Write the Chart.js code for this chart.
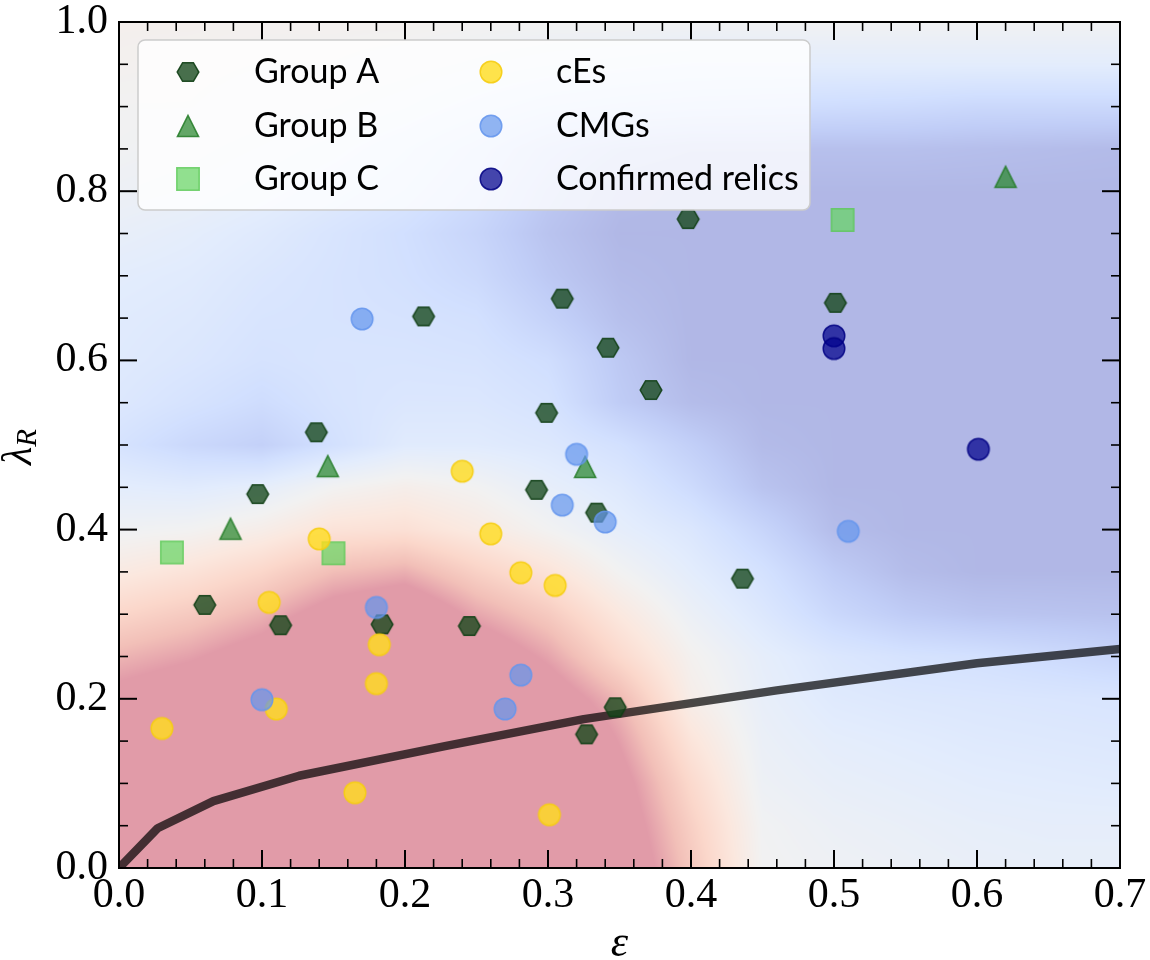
<!DOCTYPE html>
<html><head><meta charset="utf-8">
<script src="https://cdn.jsdelivr.net/npm/chart.js@4.4.1/dist/chart.umd.min.js"></script>
<style>html,body{margin:0;padding:0;background:#fff;}canvas{display:block;}</style>
</head><body>
<canvas id="c" width="1150" height="960"></canvas>
<script>
// ---------------- data ----------------
const groupA_eps = [0.060,0.113,0.097,0.138,0.184,0.213,0.245,0.292,0.299,0.310,0.342,0.334,0.372,0.398,0.501,0.436,0.347,0.327];
const groupA_lam = [0.311,0.287,0.442,0.515,0.288,0.652,0.286,0.447,0.538,0.673,0.615,0.420,0.565,0.767,0.668,0.342,0.190,0.158];
const groupB_eps = [0.078,0.146,0.326,0.620];
const groupB_lam = [0.401,0.475,0.474,0.817];
const groupC_eps = [0.037,0.150,0.506];
const groupC_lam = [0.373,0.372,0.766];
const cEs_eps = [0.030,0.105,0.110,0.140,0.165,0.180,0.182,0.240,0.260,0.281,0.305,0.301];
const cEs_lam = [0.165,0.314,0.188,0.389,0.089,0.218,0.264,0.469,0.395,0.349,0.334,0.063];
const CMG_eps = [0.170,0.100,0.180,0.281,0.270,0.320,0.310,0.340,0.510];
const CMG_lam = [0.649,0.199,0.308,0.228,0.188,0.489,0.429,0.409,0.398];
const relic_eps = [0.500,0.500,0.601];
const relic_lam = [0.629,0.614,0.495];
const line_eps = [0,0.027,0.066,0.126,0.228,0.325,0.46,0.60,0.70];
const line_lam = [0,0.047,0.079,0.109,0.144,0.176,0.210,0.242,0.259];

const x_ticks = [0,0.1,0.2,0.3,0.4,0.5,0.6,0.7];
const x_tick_labels = ['0.0','0.1','0.2','0.3','0.4','0.5','0.6','0.7'];
const y_ticks = [0,0.2,0.4,0.6,0.8,1.0];
const y_tick_labels = ['0.0','0.2','0.4','0.6','0.8','1.0'];
const legend_labels = ['Group A','Group B','Group C','cEs','CMGs','Confirmed relics'];

// background field (coolwarm value, 1 = red, 0 = blue), rows = lambda, cols = eps
const field_eps = [0,0.05,0.1,0.15,0.2,0.25,0.3,0.35,0.4,0.45,0.5,0.55,0.6,0.65,0.7];
const field_lam = [0,0.05,0.1,0.15,0.2,0.25,0.3,0.35,0.4,0.45,0.5,0.55,0.6,0.65,0.7,0.75,0.8,0.85,0.9,0.95,1.0];
const field_t = [
 [1.7,1.7,1.7,1.7,1.7,1.7,1.5,1.17,0.83,0.5,0.47,0.45,0.43,0.42,0.42],
 [1.53,1.6,1.65,1.7,1.7,1.65,1.46,1.12,0.79,0.49,0.45,0.43,0.41,0.4,0.4],
 [1.37,1.45,1.55,1.6,1.65,1.5,1.4,1.07,0.73,0.46,0.42,0.4,0.38,0.37,0.36],
 [1.22,1.3,1.4,1.55,1.6,1.4,1.3,0.99,0.65,0.44,0.39,0.37,0.35,0.34,0.33],
 [1.06,1.14,1.26,1.48,1.67,1.34,1.12,0.9,0.56,0.42,0.35,0.33,0.32,0.31,0.30],
 [0.91,0.98,1.09,1.28,1.43,1.15,0.97,0.73,0.52,0.4,0.32,0.28,0.26,0.22,0.18],
 [0.75,0.82,0.92,1.08,1.17,0.96,0.82,0.62,0.45,0.33,0.2,0.12,0.08,0.07,0.06],
 [0.6,0.66,0.75,0.88,0.93,0.78,0.66,0.5,0.38,0.27,0.12,0.03,0,0,0],
 [0.48,0.5,0.56,0.66,0.68,0.6,0.5,0.4,0.32,0.18,0.03,0,0,0,0],
 [0.38,0.36,0.4,0.5,0.55,0.5,0.41,0.34,0.22,0.07,0,0,0,0,0],
 [0.28,0.2,0.15,0.26,0.36,0.36,0.33,0.26,0.14,0.02,0,0,0,0,0],
 [0.33,0.28,0.23,0.29,0.32,0.32,0.28,0.12,0.03,0,0,0,0,0,0],
 [0.35,0.32,0.28,0.3,0.3,0.29,0.24,0.1,0,0,0,0,0,0,0],
 [0.36,0.34,0.3,0.29,0.28,0.26,0.16,0.05,0,0,0,0,0,0,0],
 [0.38,0.36,0.32,0.29,0.26,0.21,0.1,0.02,0,0,0,0,0,0,0],
 [0.42,0.39,0.35,0.3,0.25,0.18,0.07,0,0,0,0,0,0,0,0],
 [0.46,0.44,0.4,0.35,0.3,0.22,0.1,0.02,0,0,0,0,0,0,0],
 [0.49,0.47,0.44,0.4,0.34,0.26,0.15,0.08,0.05,0.05,0.05,0.05,0.04,0.03,0.02],
 [0.5,0.5,0.48,0.46,0.42,0.36,0.3,0.27,0.25,0.24,0.23,0.22,0.2,0.2,0.2],
 [0.52,0.51,0.5,0.5,0.48,0.45,0.42,0.4,0.38,0.38,0.38,0.38,0.38,0.38,0.38],
 [0.53,0.53,0.52,0.52,0.52,0.51,0.5,0.5,0.49,0.49,0.49,0.49,0.49,0.49,0.49]
];
const cmStops = [[0,59,76,192],[0.125,98,130,234],[0.25,141,176,254],[0.375,184,208,249],[0.5,221,221,221],[0.625,245,196,173],[0.75,244,154,123],[0.875,222,96,77],[1,180,4,38]];
const fieldAlpha = 0.4;

// ---------------- helpers ----------------
const pts = (xs, ys) => xs.map((v, i) => ({x: v, y: ys[i]}));

function makeMarker(kind, fill, stroke){
  const S = 30, c = document.createElement('canvas'); c.width = S; c.height = S;
  const g = c.getContext('2d'); const cx = S/2, cy = S/2;
  g.beginPath();
  if (kind === 'hex') { const r = 10.8; for (let k = 0; k < 6; k++) { const a = k*Math.PI/3; const px = cx + r*Math.cos(a), py = cy + r*Math.sin(a); if (k) g.lineTo(px, py); else g.moveTo(px, py); } g.closePath(); }
  else if (kind === 'tri') { const h = 10.6; g.moveTo(cx, cy - h); g.lineTo(cx - h, cy + h); g.lineTo(cx + h, cy + h); g.closePath(); }
  else if (kind === 'sq') { g.rect(cx - 11.2, cy - 11.2, 22.4, 22.4); }
  else { g.arc(cx, cy, 10.8, 0, 2*Math.PI); }
  g.fillStyle = fill; g.fill(); g.lineWidth = 1.5; g.strokeStyle = stroke; g.stroke();
  return c;
}
const mkA = makeMarker('hex', 'rgba(20,70,26,0.78)', 'rgba(16,62,20,0.9)');
const mkB = makeMarker('tri', 'rgba(40,135,45,0.72)', 'rgba(34,122,38,0.85)');
const mkC = makeMarker('sq', 'rgba(100,212,95,0.7)', 'rgba(90,200,85,0.8)');
const mkE = makeMarker('circ', 'rgba(255,220,30,0.8)', 'rgba(245,205,20,0.9)');
const mkM = makeMarker('circ', 'rgba(100,149,237,0.7)', 'rgba(100,149,237,0.85)');
const mkR = makeMarker('circ', 'rgba(0,0,140,0.72)', 'rgba(0,0,130,0.85)');
const legendMarkers = [mkA, mkB, mkC, mkE, mkM, mkR];

function interval(arr, v){
  let i = 0; while (i < arr.length - 2 && v > arr[i+1]) i++;
  let f = (v - arr[i]) / (arr[i+1] - arr[i]); f = Math.max(0, Math.min(1, f));
  return [i, f];
}
function cmap(t){
  t = Math.max(0, Math.min(1, t));
  let k = 0; while (k < cmStops.length - 2 && t > cmStops[k+1][0]) k++;
  const a = cmStops[k], b = cmStops[k+1]; const f = (t - a[0]) / (b[0] - a[0]);
  return [0,1,2].map(j => { const c = a[j+1] + (b[j+1] - a[j+1]) * f; return 255 + (c - 255) * fieldAlpha; });
}

const fieldPlugin = {
  id: 'field',
  beforeDatasetsDraw(chart){
    const {ctx, chartArea: a, scales: {x, y}} = chart;
    const w = Math.round(a.right - a.left), h = Math.round(a.bottom - a.top);
    const off = document.createElement('canvas'); off.width = w; off.height = h;
    const o = off.getContext('2d'); const img = o.createImageData(w, h); const d = img.data;
    const colI = [];
    for (let i = 0; i < w; i++) colI.push(interval(field_eps, x.getValueForPixel(a.left + i + 0.5)));
    for (let j = 0; j < h; j++) {
      const [r, fy] = interval(field_lam, y.getValueForPixel(a.top + j + 0.5));
      const r0 = field_t[r], r1 = field_t[r+1];
      for (let i = 0; i < w; i++) {
        const [c, fx] = colI[i];
        const t = (r0[c]*(1-fx) + r0[c+1]*fx)*(1-fy) + (r1[c]*(1-fx) + r1[c+1]*fx)*fy;
        const col = cmap(t); const p = (j*w + i)*4;
        d[p] = col[0]; d[p+1] = col[1]; d[p+2] = col[2]; d[p+3] = 255;
      }
    }
    o.putImageData(img, 0, 0);
    ctx.drawImage(off, a.left, a.top);
  }
};

const framePlugin = {
  id: 'frame',
  afterDatasetsDraw(chart){
    const {ctx, chartArea: a, scales: {x, y}} = chart;
    ctx.save(); ctx.strokeStyle = '#000';
    const seg = (x1, y1, x2, y2, lw) => { ctx.lineWidth = lw; ctx.beginPath(); ctx.moveTo(x1, y1); ctx.lineTo(x2, y2); ctx.stroke(); };
    for (let k = 0; k <= 35; k++) {
      const v = k * 0.02; const px = x.getPixelForValue(v);
      const major = k % 5 === 0; const L = major ? 18 : 9, lw = major ? 2 : 1.6;
      seg(px, a.bottom, px, a.bottom - L, lw); seg(px, a.top, px, a.top + L, lw);
    }
    for (let k = 0; k <= 20; k++) {
      const v = k * 0.05; const py = y.getPixelForValue(v);
      const major = k % 4 === 0; const L = major ? 18 : 9, lw = major ? 2 : 1.6;
      seg(a.left, py, a.left + L, py, lw); seg(a.right, py, a.right - L, py, lw);
    }
    ctx.lineWidth = 2; ctx.strokeRect(a.left, a.top, a.right - a.left, a.bottom - a.top);
    // axis titles
    ctx.fillStyle = '#000';
    ctx.font = 'italic 44px "Liberation Serif"'; ctx.textAlign = 'center'; ctx.textBaseline = 'alphabetic';
    ctx.fillText('ε', (a.left + a.right)/2, 956);
    ctx.save();
    ctx.translate(31, 447); ctx.rotate(-Math.PI/2);
    ctx.font = 'italic 42px "Liberation Serif"'; const wl = ctx.measureText('λ').width;
    ctx.font = 'italic 29px "Liberation Serif"'; const wr = ctx.measureText('R').width;
    const x0 = -(wl + wr)/2;
    ctx.textAlign = 'left';
    ctx.font = 'italic 42px "Liberation Serif"'; ctx.fillText('λ', x0, 0);
    ctx.font = 'italic 29px "Liberation Serif"'; ctx.fillText('R', x0 + wl, 5);
    ctx.restore();
    ctx.restore();
  }
};

const legendPlugin = {
  id: 'customLegend',
  afterDraw(chart){
    const ctx = chart.ctx; ctx.save();
    const bx = 138, by = 40, bw = 672, bh = 170, r = 7;
    ctx.beginPath();
    ctx.moveTo(bx + r, by); ctx.lineTo(bx + bw - r, by); ctx.arcTo(bx + bw, by, bx + bw, by + r, r);
    ctx.lineTo(bx + bw, by + bh - r); ctx.arcTo(bx + bw, by + bh, bx + bw - r, by + bh, r);
    ctx.lineTo(bx + r, by + bh); ctx.arcTo(bx, by + bh, bx, by + bh - r, r);
    ctx.lineTo(bx, by + r); ctx.arcTo(bx, by, bx + r, by, r); ctx.closePath();
    ctx.fillStyle = 'rgba(255,255,255,0.8)'; ctx.fill();
    ctx.strokeStyle = 'rgba(204,204,204,1)'; ctx.lineWidth = 1.5; ctx.stroke();
    const rows = [72, 126, 179], mx = [188, 491], tx = [254, 556];
    ctx.font = '34px Lato'; ctx.fillStyle = '#000'; ctx.textAlign = 'left'; ctx.textBaseline = 'alphabetic';
    legend_labels.forEach((lab, i) => {
      const col = Math.floor(i / 3), row = i % 3;
      const m = legendMarkers[i];
      ctx.drawImage(m, mx[col] - m.width/2, rows[row] - m.height/2);
      ctx.fillText(lab, tx[col], rows[row] + 11);
    });
    ctx.restore();
  }
};

const scatterDs = (label, xs, ys, mk, order) => ({
  label, data: pts(xs, ys), pointStyle: mk, pointRadius: 10, pointHoverRadius: 10, order, showLine: false
});

new Chart(document.getElementById('c'), {
  type: 'scatter',
  data: { datasets: [
    { label: 'line', data: pts(line_eps, line_lam), showLine: true, borderColor: 'rgba(0,0,0,0.7)', borderWidth: 8.5,
      pointRadius: 0, pointHoverRadius: 0, fill: false, tension: 0, order: 10, clip: 0, borderJoinStyle: 'round', borderCapStyle: 'butt' },
    scatterDs(legend_labels[0], groupA_eps, groupA_lam, mkA, 6),
    scatterDs(legend_labels[1], groupB_eps, groupB_lam, mkB, 5),
    scatterDs(legend_labels[2], groupC_eps, groupC_lam, mkC, 4),
    scatterDs(legend_labels[3], cEs_eps, cEs_lam, mkE, 3),
    scatterDs(legend_labels[4], CMG_eps, CMG_lam, mkM, 2),
    scatterDs(legend_labels[5], relic_eps, relic_lam, mkR, 1)
  ]},
  options: {
    responsive: false, animation: false, devicePixelRatio: 1, events: [],
    layout: { padding: { left: 0, top: 22, right: 30, bottom: 0 } },
    plugins: { legend: { display: false }, tooltip: { enabled: false } },
    scales: {
      x: { type: 'linear', min: 0, max: 0.7,
        grid: { display: false, drawTicks: false }, border: { display: false },
        afterBuildTicks: s => { s.ticks = x_ticks.map(v => ({ value: v })); },
        ticks: { autoSkip: false, maxRotation: 0, padding: 7, color: '#000',
          font: { family: '"Liberation Serif"', size: 42, lineHeight: 1.0 },
          callback: (v) => { const i = x_ticks.findIndex(t => Math.abs(t - v) < 1e-9); return i >= 0 ? x_tick_labels[i] : ''; } },
        afterFit: s => { s.height = 92; s.paddingLeft = 0; s.paddingRight = 0; } },
      y: { type: 'linear', min: 0, max: 1,
        grid: { display: false, drawTicks: false }, border: { display: false },
        afterBuildTicks: s => { s.ticks = y_ticks.map(v => ({ value: v })); },
        ticks: { autoSkip: false, padding: 11, color: '#000',
          font: { family: '"Liberation Serif"', size: 42, lineHeight: 1.0 },
          callback: (v) => { const i = y_ticks.findIndex(t => Math.abs(t - v) < 1e-9); return i >= 0 ? y_tick_labels[i] : ''; } },
        afterFit: s => { s.width = 119; s.paddingTop = 0; s.paddingBottom = 0; } }
    }
  },
  plugins: [fieldPlugin, framePlugin, legendPlugin]
});
</script>
</body></html>
